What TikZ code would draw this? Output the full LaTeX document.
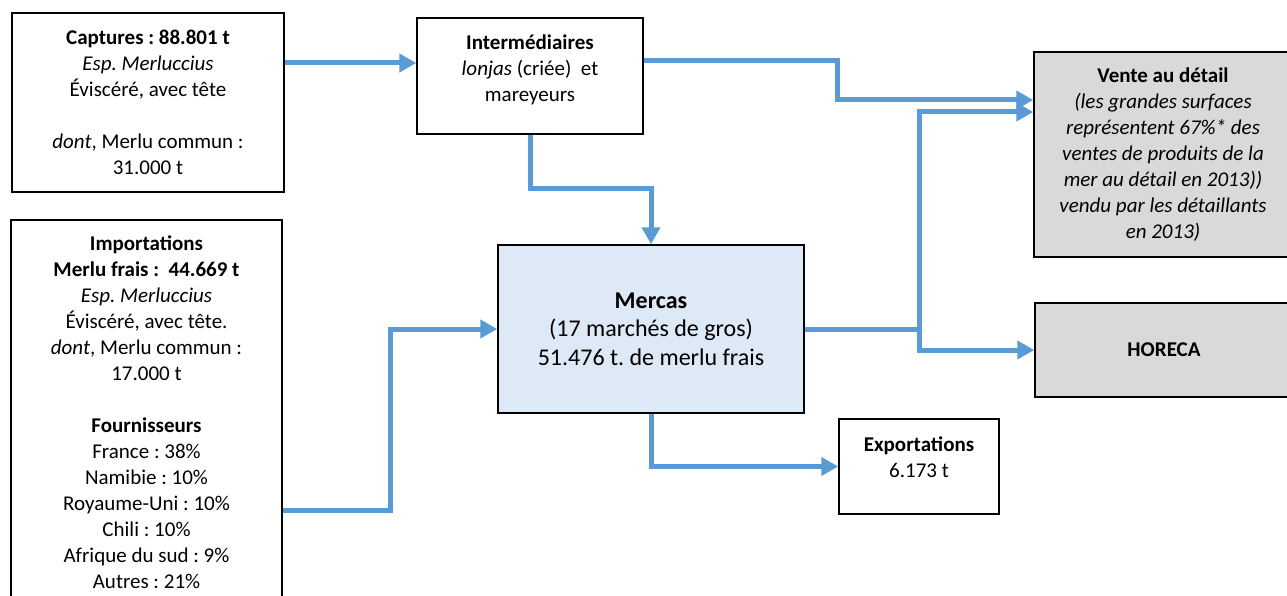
\documentclass[tikz,border=0pt]{standalone}
\usepackage{fontspec}
\setmainfont{Carlito}
\usepackage{xcolor}
\usepackage{tikz}
\usetikzlibrary{calc}
\usetikzlibrary{arrows.meta}
\usetikzlibrary{positioning}
\frenchspacing
\definecolor{flowblue}{HTML}{5B9BD5}
\definecolor{mercasfill}{HTML}{DDE9F6}
\definecolor{retailgray}{HTML}{D9D9D9}
\tikzstyle{box} = [rectangle, draw = black, line width = 1.5pt, align = center, inner sep = 0, font = \fontsize{21}{26}\selectfont]
\tikzstyle{flow} = [draw = flowblue, line width = 5pt, -{Triangle[length = 17pt, width = 18pt]}]
\tikzstyle{link} = [draw = flowblue, line width = 5pt]

\begin{document}
\begin{tikzpicture}[x = 1pt, y = -1pt]
\useasboundingbox (0, 0) rectangle (1287, 596);
\clip (0, 0) rectangle (1287, 596);
\node [box, minimum width = 272pt, minimum height = 179pt] (capt) at (148, 102.5) {\textbf{Captures : 88.801 t}\\ \textit{Esp. Merluccius}\\ Éviscéré, avec tête\\[26pt] \textit{dont}, Merlu commun :\\ 31.000 t};
\node [box, anchor = north, minimum width = 271pt, inner ysep = 16pt] (impo) at (146.5, 219) {\textbf{Importations}\\ \textbf{Merlu frais :~ 44.669 t}\\ \textit{Esp. Merluccius}\\ Éviscéré, avec tête.\\ \textit{dont}, Merlu commun :\\ 17.000 t\\[26pt] \textbf{Fournisseurs}\\ France : 38\%\\ Namibie : 10\%\\ Royaume-Uni : 10\%\\ Chili : 10\%\\ Afrique du sud : 9\%\\ Autres : 21\%};
\node [box, minimum width = 226pt, minimum height = 116pt, text depth = 15pt] (inter) at (530, 76) {\textbf{Intermédiaires}\\ \textit{lonjas} (criée)~ et\\ mareyeurs};
\node [box, fill = mercasfill, minimum width = 306pt, minimum height = 168pt, font = \fontsize{24}{28.5}\selectfont] (mercas) at (651, 329) {\textbf{Mercas}\\ (17 marchés de gros)\\ 51.476 t. de merlu frais};
\node [box, minimum width = 160pt, minimum height = 95pt, text depth = 18pt] (expo) at (919, 466.5) {\textbf{Exportations}\\ 6.173 t};
\node [box, fill = retailgray, minimum width = 258pt, minimum height = 205pt] (vente) at (1163, 154.5) {\textbf{Vente au détail}\\ \textit{(les grandes surfaces}\\ \textit{représentent 67\%* des}\\ \textit{ventes de produits de la}\\ \textit{mer au détail en 2013))}\\ \textit{vendu par les détaillants}\\ \textit{en 2013)}};
\node [box, fill = retailgray, minimum width = 258pt, minimum height = 94pt] (horeca) at (1164, 350) {\textbf{HORECA}};
\coordinate (split) at (919, 329);
\draw [flow] (capt.east |- 0, 63) -- (inter.west |- 0, 63);
\draw [flow] (inter.east |- 0, 61) -- (837, 61) -- (837, 100) -- (vente.west |- 0, 100);
\draw [flow] (inter.south) -- ++(0, 54) -| (mercas.north);
\draw [flow] (impo.east |- 0, 510) -- (390, 510) |- (mercas.west);
\draw [link] (mercas.east |- split) -- (split);
\draw [flow] (split) -- (919, 112) -- (vente.west |- 0, 112);
\draw [flow] (split) |- (horeca.west);
\draw [flow] (mercas.south) |- (expo.west);
%\node [draw = none, font = \tiny] at (650, 560) {flux du merlu frais};
\end{tikzpicture}
\end{document}
